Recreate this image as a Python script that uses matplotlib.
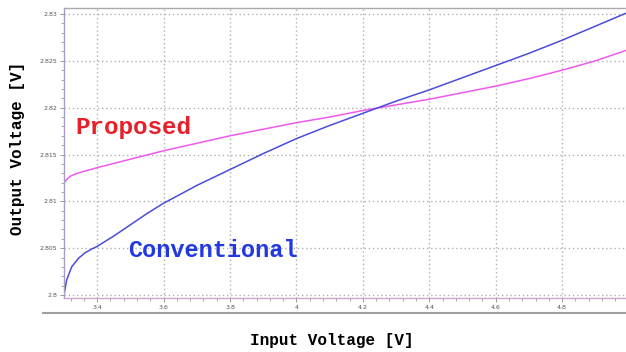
import matplotlib.pyplot as plt
import numpy as np
from matplotlib.ticker import MultipleLocator, FormatStrFormatter
from matplotlib.lines import Line2D

# values
vin_conv = [3.30, 3.308, 3.323, 3.343, 3.363, 3.383, 3.40, 3.45, 3.50, 3.55, 3.60, 3.70,
            3.80, 3.90, 4.00, 4.10, 4.20, 4.30, 4.40, 4.50, 4.60, 4.70, 4.80, 4.90, 5.00]
vout_conv = [2.8000, 2.8016, 2.8030, 2.8039, 2.8045, 2.8049, 2.8052, 2.8063, 2.8075, 2.8087,
             2.8098, 2.8117, 2.8134, 2.8151, 2.8167, 2.8181, 2.8194, 2.8207, 2.8219, 2.8232,
             2.8245, 2.8258, 2.8272, 2.8287, 2.8302]

vin_prop = [3.30, 3.31, 3.32, 3.34, 3.37, 3.40, 3.50, 3.60, 3.70, 3.80, 3.90, 4.00, 4.10,
            4.20, 4.30, 4.40, 4.50, 4.60, 4.70, 4.80, 4.90, 5.00]
vout_prop = [2.8120, 2.8124, 2.8127, 2.8130, 2.8133, 2.8136, 2.8145, 2.8154, 2.8162, 2.8170,
             2.8177, 2.8184, 2.8190, 2.8197, 2.8203, 2.8209, 2.8216, 2.8223, 2.8231, 2.8240,
             2.8250, 2.8262]

labelfont = 'Liberation Mono'

fig = plt.figure(figsize=(6.26, 3.52), dpi=100)
ax = fig.add_axes([64 / 626, 1 - 298.3 / 352, 564.5 / 626, 290 / 352])

ax.plot(vin_prop, vout_prop, color='#ee5aee', lw=1.1)
ax.plot(vin_conv, vout_conv, color='#4b4bdc', lw=1.1)

ax.set_xlim(3.3, 5.0)
ax.set_ylim(2.79965, 2.83061)

ax.xaxis.set_major_locator(MultipleLocator(0.2))
ax.xaxis.set_minor_locator(MultipleLocator(0.04))
ax.yaxis.set_major_locator(MultipleLocator(0.005))
ax.yaxis.set_minor_locator(MultipleLocator(0.001))
ax.xaxis.set_major_formatter(FormatStrFormatter('%g'))
ax.yaxis.set_major_formatter(FormatStrFormatter('%g'))

ax.grid(True, which='major', color='#b0b0b0', linestyle=(0, (1, 2)), lw=1)
ax.tick_params(which='both', direction='out', color='#888888', labelsize=4.5,
               labelcolor='#555555', pad=2)
ax.tick_params(which='major', length=3, width=0.6)
ax.tick_params(which='minor', length=2, width=0.5)

ax.spines['right'].set_visible(False)
ax.spines['top'].set_color('#aaaaaa')
ax.spines['left'].set_color('#a89cc8')
ax.spines['bottom'].set_color('#c8a8c8')
for s in ['top', 'left', 'bottom']:
    ax.spines[s].set_linewidth(1.0)

ax.text(3.333, 2.81784, 'Proposed', color='#e8202a', fontsize=17.5, family=labelfont,
        weight='bold', ha='left', va='center')
ax.text(3.4925, 2.8047, 'Conventional', color='#2238e0', fontsize=17, family=labelfont,
        weight='bold', ha='left', va='center')

fig.text(18 / 626, 1 - 148 / 352, 'Output Voltage [V]', rotation=90, fontsize=11.5,
         family=labelfont, weight='bold', ha='center', va='center')
fig.text(332 / 626, 1 - 340 / 352, 'Input Voltage [V]', fontsize=11.5,
         family=labelfont, weight='bold', ha='center', va='center')

# separator line under the tick labels
fig.add_artist(Line2D([43 / 626, 1], [1 - 313 / 352] * 2, color='#a0a0a0', lw=1.5))

fig.savefig('out.png', dpi=100)
